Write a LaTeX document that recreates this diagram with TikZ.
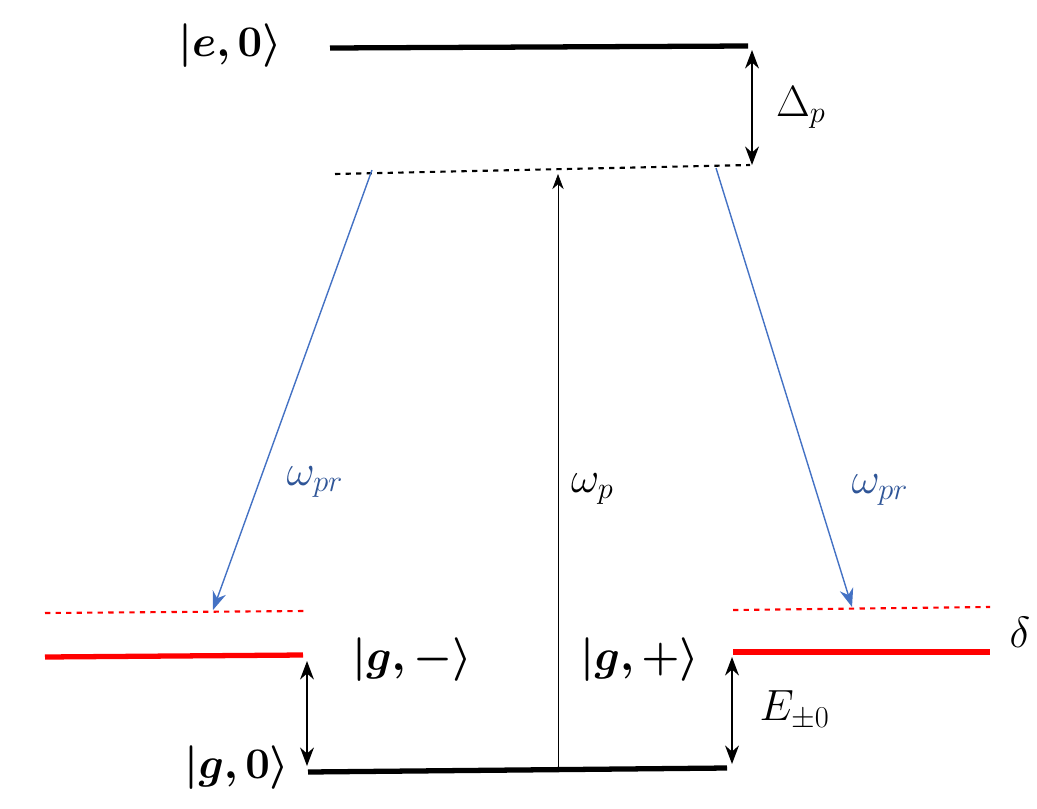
\documentclass[tikz,border=0pt]{standalone}
\usepackage{amsmath}
\usepackage{bm}
\usetikzlibrary{arrows, positioning, arrows.meta}
\definecolor{probe}{RGB}{68,114,196}
\definecolor{probetext}{RGB}{47,85,151}
\begin{document}
\begin{tikzpicture}[x=0.02cm, y=-0.02cm, font=\fontsize{24}{28}\selectfont]
    \useasboundingbox (0,0) rectangle (1037,808);
    % Levels
    \coordinate (e0 l) at (330,48);   \coordinate (e0 r) at (748,46);
    \coordinate (virt l) at (335,174); \coordinate (virt r) at (750,165);
    \coordinate (gm l) at (45,657);   \coordinate (gm r) at (303,655);
    \coordinate (gmd l) at (45,613);  \coordinate (gmd r) at (305,611);
    \coordinate (gp l) at (733,652);  \coordinate (gp r) at (990,652);
    \coordinate (gpd l) at (733,610); \coordinate (gpd r) at (990,607);
    \coordinate (g0 l) at (308,772);  \coordinate (g0 r) at (727,768);
    \draw[line width=3pt] (e0 l) -- (e0 r);
    \draw[line width=1.2pt, dashed] (virt l) -- (virt r);
    \draw[red, line width=3pt] (gm l) -- (gm r);
    \draw[red, line width=1.2pt, dashed] (gmd l) -- (gmd r);
    \draw[red, line width=3pt] (gp l) -- (gp r);
    \draw[red, line width=1.2pt, dashed] (gpd l) -- (gpd r);
    \draw[line width=3pt] (g0 l) -- (g0 r);

    % Labels
    \node (e0 label) at (230,46) {$\bm{|e,0\rangle}$};
    \node (gm label) at (412,660) {$\bm{|g,-\rangle}$};
    \node (gp label) at (640,660) {$\bm{|g,+\rangle}$};
    \node (g0 label) at (237,768) {$\bm{|g,0\rangle}$};

    % Transitions
    \coordinate (detune top) at (752,50);  \coordinate (detune bot) at (752,165);
    \draw [arrows = {Stealth[scale=1.6]-Stealth[scale=1.6]}, thick] (detune top) -- (detune bot)
        node[midway, right=10pt] {$\Delta_p$};
    \coordinate (pump foot) at (558,768); \coordinate (pump head) at (558,174);
    \draw [arrows = {-Stealth[scale=1.8]}] (pump foot) -- (pump head)
        node[pos=0.47, right=4pt] {$\omega_p$};
    \coordinate (pl start) at (372,170); \coordinate (pl end) at (213,610);
    \draw [probe, thick, arrows = {-Stealth[scale=1.6]}] (pl start) -- (pl end);
    \node[text=probetext] (pl label) at (315,482) {$\omega_{pr}$};
    \coordinate (pr start) at (716,168); \coordinate (pr end) at (852,607);
    \draw [probe, thick, arrows = {-Stealth[scale=1.6]}] (pr start) -- (pr end);
    \node[text=probetext] (pr label) at (880,490) {$\omega_{pr}$};
    \coordinate (sm top) at (307,661); \coordinate (sm bot) at (307,766);
    \draw [arrows = {Stealth[scale=1.6]-Stealth[scale=1.6]}, thick] (sm top) -- (sm bot);
    \coordinate (sp top) at (732,657); \coordinate (sp bot) at (732,764);
    \draw [arrows = {Stealth[scale=1.6]-Stealth[scale=1.6]}, thick] (sp top) -- (sp bot)
        node[midway, right=12pt] {$E_{\pm 0}$};
    \node (delta label) at (1020,632) {$\delta$};
\end{tikzpicture}
\end{document}
